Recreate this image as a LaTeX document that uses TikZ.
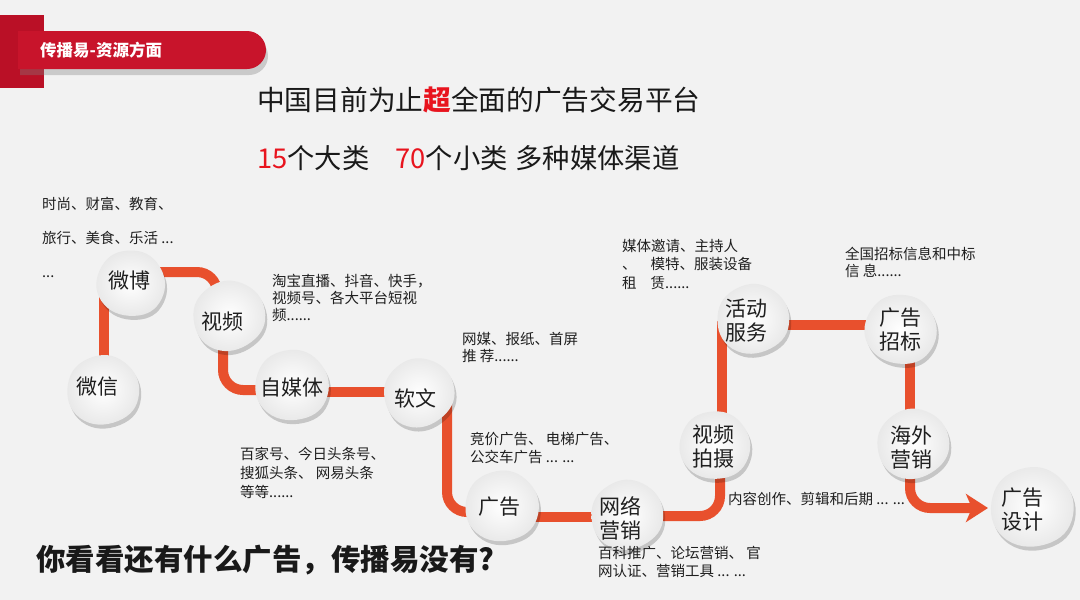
\documentclass[tikz,border=0pt]{standalone}
\usepackage{fontspec}
\setmainfont{Noto Sans CJK SC}
\usetikzlibrary{shadows,arrows.meta}
\definecolor{bgc}{HTML}{F2F2F2}
\definecolor{hdred}{HTML}{C8142B}
\definecolor{blockred}{HTML}{BA1026}
\definecolor{conncol}{HTML}{E8502D}
\definecolor{txtred}{HTML}{E8141E}
\pgfdeclarelayer{bg}
\pgfdeclarelayer{conn}
\pgfsetlayers{bg,conn,main}
\tikzset{
  lbl/.style={font=\fontsize{21}{24}\selectfont, align=center, inner sep=0pt, text=black!88},
  ann/.style={font=\fontsize{14.5}{17}\selectfont, align=left, anchor=north west, inner sep=0pt, text=black!88},
  conn/.style={draw=conncol, line width=10pt, rounded corners=20pt},
  pebblefill/.style={shading=radial, inner color=white, outer color=black!9,
     drop shadow={shadow xshift=2pt, shadow yshift=-4pt, opacity=0.18, fill=black}},
}
\newcommand\pebble[4]{\path[pebblefill, shift={(#1,#2)}, rotate=#3, scale=#4]
  plot[smooth cycle, tension=0.8] coordinates {(-34,-6) (-12,-32) (22,-28) (37,4) (16,31) (-22,28)};}
\begin{document}
\begin{tikzpicture}[x=1pt,y=-1pt]
\useasboundingbox (0,0) rectangle (1080,600);
\begin{pgfonlayer}{bg}
\fill[bgc] (0,0) rectangle (1080,600);
\end{pgfonlayer}
% header
\fill[blockred] (0,15) rectangle (44,88);
\path[fill=hdred, drop shadow={shadow xshift=2pt, shadow yshift=-6pt, opacity=0.35}]
  (18,31) rectangle (247,69) (247,50) circle (19pt);
\node[font=\bfseries\fontsize{16.5}{18}\selectfont, text=white, anchor=west, inner sep=0pt] (hdr) at (40,50) {传播易-资源方面};
% titles
\node[anchor=west, inner sep=0pt, font=\fontsize{27.7}{30}\selectfont, text=black!90] (title) at (257,100)
  {中国目前为止\textcolor{txtred}{\bfseries 超}全面的广告交易平台};
\node[anchor=west, inner sep=0pt, font=\fontsize{27.3}{30}\selectfont, text=black!90] (subtitle) at (257,158)
  {\textcolor{txtred}{15}个大类\hspace{26pt}\textcolor{txtred}{70}个小类\hspace{8pt}多种媒体渠道};
\node[anchor=west, inner sep=0pt, font=\bfseries\fontsize{29.5}{32}\selectfont, text=black!90] (bottom) at (36,560)
  {你看看还有什么广告，传播易没有?};
% pebbles
\pebble{102}{390}{0}{1}
\node[lbl] (weixin) at (97,387) {微信};
\pebble{130}{283}{-20}{0.95}
\node[lbl] (weibo) at (129,281) {微博};
\pebble{228}{316}{15}{1}
\node[lbl] (shipin) at (222,322) {视频};
\pebble{291}{385}{-10}{1.02}
\node[lbl] (zimeiti) at (292,388) {自媒体};
\pebble{418}{393}{20}{0.98}
\node[lbl] (ruanwen) at (415,398) {软文};
\pebble{501}{506}{-5}{1.02}
\node[lbl] (guanggao) at (499,507) {广告};
\pebble{626}{515}{10}{1.0}
\node[lbl] (wangluo) at (620,518) {网络\\营销};
\pebble{714}{445}{-15}{0.98}
\node[lbl] (shipai) at (713,447) {视频\\拍摄};
\pebble{752}{319}{5}{1.0}
\node[lbl] (huodong) at (746,321) {活动\\服务};
\pebble{900}{329}{-25}{1.0}
\node[lbl] (zhaobiao) at (900,330) {广告\\招标};
\pebble{912}{444}{15}{1.0}
\node[lbl] (haiwai) at (911,448) {海外\\营销};
\pebble{1031}{507}{-5}{1.15}
\node[lbl] (sheji) at (1022,510) {广告\\设计};
% annotations
\node[ann, font=\fontsize{14.5}{34}\selectfont] (a1) at (42,197) {时尚、财富、教育、\\旅行、美食、乐活 ...\\...};
\node[ann] (a2) at (272,274) {淘宝直播、抖音、快手，\\视频号、各大平台短视\\频......};
\node[ann] (a3) at (462,332) {网媒、报纸、首屏\\推 荐......};
\node[ann, font=\fontsize{14.5}{19}\selectfont] (a4) at (240,447) {百家号、今日头条号、\\搜狐头条、 网易头条\\等等......};
\node[ann, font=\fontsize{14.5}{18}\selectfont] (a5) at (470,432) {竞价广告、 电梯广告、\\公交车广告 ... ...};
\node[ann, font=\fontsize{14.5}{18}\selectfont] (a6) at (598,546) {百科推广、论坛营销、 官\\网认证、营销工具 ... ...};
\node[ann] (a7) at (728,492) {内容创作、剪辑和后期 ... ...};
\node[ann, font=\fontsize{14.5}{18.5}\selectfont] (a8) at (622,239) {媒体邀请、主持人\\、\hspace{14pt}模特、服装设备\\租\hspace{14pt}赁......};
\node[ann] (a9) at (845,247) {全国招标信息和中标\\信 息......};
% connectors
\begin{pgfonlayer}{conn}
\draw[conn] ([xshift=7pt]weixin.center) -- ([xshift=7pt]weixin.center |- weibo.center);
\draw[conn] ([yshift=9pt]weibo.center) -| ([xshift=-5pt]shipin.center);
\draw[conn] ([xshift=1pt]shipin.center) |- ([yshift=-2pt]zimeiti.center);
\draw[conn] ([yshift=-4pt]zimeiti.center) -- ([yshift=-4pt]zimeiti.center -| ruanwen.center);
\draw[conn] ([xshift=32pt,yshift=-6pt]ruanwen.center) |- ([yshift=-5pt]guanggao.center);
\draw[conn] ([yshift=-10pt]guanggao.center) -- ([yshift=-10pt]guanggao.center -| wangluo.center);
\draw[conn] ([yshift=2pt]wangluo.center) -| ([xshift=7pt]shipai.center);
\draw[conn] ([xshift=9pt]shipai.center) -- ([xshift=9pt]shipai.center |- huodong.center);
\draw[conn] ([yshift=-4pt]huodong.center) -- ([yshift=-4pt]huodong.center -| zhaobiao.center);
\draw[conn] ([xshift=10pt]zhaobiao.center) -- ([xshift=10pt]zhaobiao.center |- haiwai.center);
\coordinate (arrend) at ([xshift=-34pt,yshift=2pt]sheji.center);
\draw[conn, -{Stealth[length=22pt,width=28pt,inset=6pt]}] ([xshift=-1pt]haiwai.center) |- (arrend);
\end{pgfonlayer}
\end{tikzpicture}
\end{document}
